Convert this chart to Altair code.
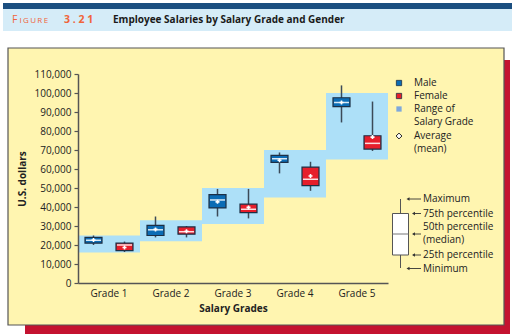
import altair as alt
import pandas as pd

grades = ["Grade 1", "Grade 2", "Grade 3", "Grade 4", "Grade 5"]
range_low = [16000, 22000, 31000, 45000, 65000]
range_high = [25000, 33000, 50000, 70000, 100000]

male_min = [20000, 24000, 35000, 57700, 84500]
male_q1 = [21000, 25000, 39500, 63500, 92800]
male_med = [22500, 28000, 43700, 65400, 95000]
male_q3 = [24000, 30300, 46500, 67200, 97500]
male_max = [25000, 35000, 49500, 68700, 104000]
male_mean = [22600, 28200, 42700, 64600, 95000]

female_min = [16300, 24000, 34000, 48500, 69500]
female_q1 = [17000, 25700, 37000, 51200, 70500]
female_med = [20000, 27000, 38800, 54600, 73500]
female_q3 = [21000, 29500, 41500, 61000, 77500]
female_max = [21800, 30000, 49500, 63800, 95500]
female_mean = [18700, 27200, 39800, 56300, 76800]

y_ticks = list(range(0, 110001, 10000))

FONT = "Open Sans"
W, H = 310, 209

ranges = pd.DataFrame({"grade": grades, "lo": range_low, "hi": range_high})
rows = []
for i, g in enumerate(grades):
    rows.append(dict(grade=g, gender="Male", mn=male_min[i], q1=male_q1[i], med=male_med[i],
                     q3=male_q3[i], mx=male_max[i], mean=male_mean[i]))
    rows.append(dict(grade=g, gender="Female", mn=female_min[i], q1=female_q1[i], med=female_med[i],
                     q3=female_q3[i], mx=female_max[i], mean=female_mean[i]))
boxes = pd.DataFrame(rows)

one = alt.Data(values=[{"a": 1}])

x_axis = alt.Axis(title="Salary Grades", labelAngle=0, ticks=False, domainColor="#555555",
                  domainWidth=1.5, labelFont=FONT, labelFontSize=10, labelColor="#222222",
                  labelPadding=5, titleFont=FONT, titleFontSize=10, titleFontWeight="bold",
                  titleColor="#222222", titlePadding=5, zindex=1)
y_axis = alt.Axis(title="U.S. dollars", values=y_ticks, format=",.0f", grid=False, tickSize=4,
                  tickColor="#555555", domainColor="#555555", domainWidth=1.5, tickWidth=1.2,
                  labelFont=FONT, labelFontSize=10, labelColor="#222222", labelPadding=3,
                  titleFont=FONT, titleFontSize=10, titleFontWeight="bold", titleColor="#222222",
                  titleX=-56, titleY=H / 2, titleAlign="center", titleBaseline="middle",
                  titleAngle=270, zindex=1)
x_scale = alt.Scale(domain=grades, paddingInner=0, paddingOuter=0)
y_scale = alt.Scale(domain=[0, 110000], nice=False, zero=True)
xoff = alt.XOffset("gender:N", scale=alt.Scale(domain=["Male", "Female"], paddingInner=0.4516,
                                               paddingOuter=0.2258))
col = alt.Color("gender:N", scale=alt.Scale(domain=["Male", "Female"], range=["#0b6cb5", "#e61e2b"]),
                legend=None)


def X():
    return alt.X("grade:N", scale=x_scale, axis=x_axis)


def Y(f):
    return alt.Y(f, scale=y_scale, axis=y_axis)


def rect(x, x2, y, y2, fill, stroke=None, sw=0):
    kw = dict(color=fill)
    if stroke:
        kw.update(stroke=stroke, strokeWidth=sw)
    return alt.Chart(one).mark_rect(**kw).encode(
        x=alt.value(x), x2=alt.value(x2), y=alt.value(y), y2=alt.value(y2))


def text(t, x, y, size=10, color="#222222", weight="normal", align="left"):
    return alt.Chart(one).mark_text(text=t, font=FONT, fontSize=size, color=color, fontWeight=weight,
                                    align=align, baseline="middle").encode(x=alt.value(x), y=alt.value(y))


OX, OY = 78, 74  # plot origin in page pixels


def px(v):
    return v - OX


def py(v):
    return v - OY


deco = [
    rect(px(25), px(510), py(60), py(334), "#c41230"),
    rect(px(8), px(504), py(48), py(325), "#fff5b0", "#555555", 1.2),
    rect(px(3), px(512), py(3), py(9), "#1b4f80"),
    rect(px(3), px(512), py(9), py(31), "#d5ecf8"),
    text("F", px(12), py(20), 10.5, "#f0643a"),
    text("I\u2009G\u2009U\u2009R\u2009E", px(19.5), py(20.5), 8, "#f0643a"),
    text("3 . 2 1", px(64), py(20), 10.5, "#f0643a", "bold"),
    text("Employee Salaries by Salary Grade and Gender", px(113), py(20), 10, "#1a1a1a", "bold"),
]

bands = alt.Chart(ranges).mark_rect(color="#ade0f8").encode(
    x=X(), y=Y("lo:Q"), y2="hi:Q")

whisk = alt.Chart(boxes).mark_rule(color="#3b4a58", strokeWidth=1.5).encode(
    x=X(), xOffset=xoff, y=Y("mn:Q"), y2="mx:Q")

box = alt.Chart(boxes).mark_bar(stroke="#1c2f45", strokeWidth=1.2).encode(
    x=X(), xOffset=xoff, y=Y("q1:Q"), y2="q3:Q", color=col)

med = alt.Chart(boxes).mark_tick(color="#ffffff", opacity=0.85, thickness=1.5, size=15).encode(
    x=X(), xOffset=xoff, y=Y("med:Q"))

mean = alt.Chart(boxes).mark_point(shape="cross", filled=True, color="#ffffff", size=16, opacity=1).encode(
    x=X(), xOffset=xoff, y=Y("mean:Q"))


def sq(x, y, fill, stroke="#1c2f45"):
    return alt.Chart(one).mark_point(shape="square", filled=True, fill=fill, stroke=stroke, strokeWidth=0.8,
                                     size=28, opacity=1).encode(x=alt.value(x), y=alt.value(y))


legend = [
    sq(px(399), py(83), "#0b6cb5"),
    sq(px(399), py(96), "#e61e2b"),
    alt.Chart(one).mark_point(shape="square", filled=True, color="#7ea8dc", size=28, opacity=1).encode(
        x=alt.value(px(399)), y=alt.value(py(109))),
    alt.Chart(one).mark_point(shape="diamond", filled=True, fill="#ffffff", stroke="#222222",
                              strokeWidth=1, size=34, opacity=1).encode(
        x=alt.value(px(399)), y=alt.value(py(136))),
    text("Male", px(414), py(83)),
    text("Female", px(414), py(96)),
    text("Range of", px(414), py(109)),
    text("Salary Grade", px(414), py(121.5)),
    text("Average", px(414), py(136)),
    text("(mean)", px(414), py(148.5)),
]

# key diagram
kx = 400.5
key = [
    alt.Chart(one).mark_rule(color="#555555", strokeWidth=1).encode(
        x=alt.value(px(kx)), y=alt.value(py(199)), y2=alt.value(py(268))),
    rect(px(392.5), px(408.5), py(213.5), py(255), "#ffffff", "#555555", 1),
    alt.Chart(one).mark_rule(color="#777777", strokeWidth=1).encode(
        x=alt.value(px(392.5)), x2=alt.value(px(408.5)), y=alt.value(py(234))),
]
arrows = [(406, 199), (411.5, 213.5), (411.5, 234), (411.5, 255), (406, 268.5)]
for ax, ay in arrows:
    key.append(alt.Chart(one).mark_rule(color="#333333", strokeWidth=0.9).encode(
        x=alt.value(px(ax + 2)), x2=alt.value(px(421)), y=alt.value(py(ay))))
    key.append(alt.Chart(one).mark_point(shape="triangle-left", filled=True, color="#333333", size=12,
                                         opacity=1).encode(x=alt.value(px(ax + 2)), y=alt.value(py(ay))))
key += [
    text("Maximum", px(423), py(199)),
    text("75th percentile", px(423), py(213.5)),
    text("50th percentile", px(423), py(227)),
    text("(median)", px(423), py(239.5)),
    text("25th percentile", px(423), py(255)),
    text("Minimum", px(423), py(269)),
]

chart = alt.layer(*deco, bands, whisk, box, med, mean, *legend, *key).properties(
    width=W, height=H,
    autosize=alt.AutoSizeParams(type="none"),
    padding={"left": OX, "top": OY, "right": 512 - OX - W, "bottom": 334 - OY - H},
    background="#ffffff",
).configure_view(stroke=None)

chart.save("out.html", embed_options={"renderer": "svg", "actions": False})
